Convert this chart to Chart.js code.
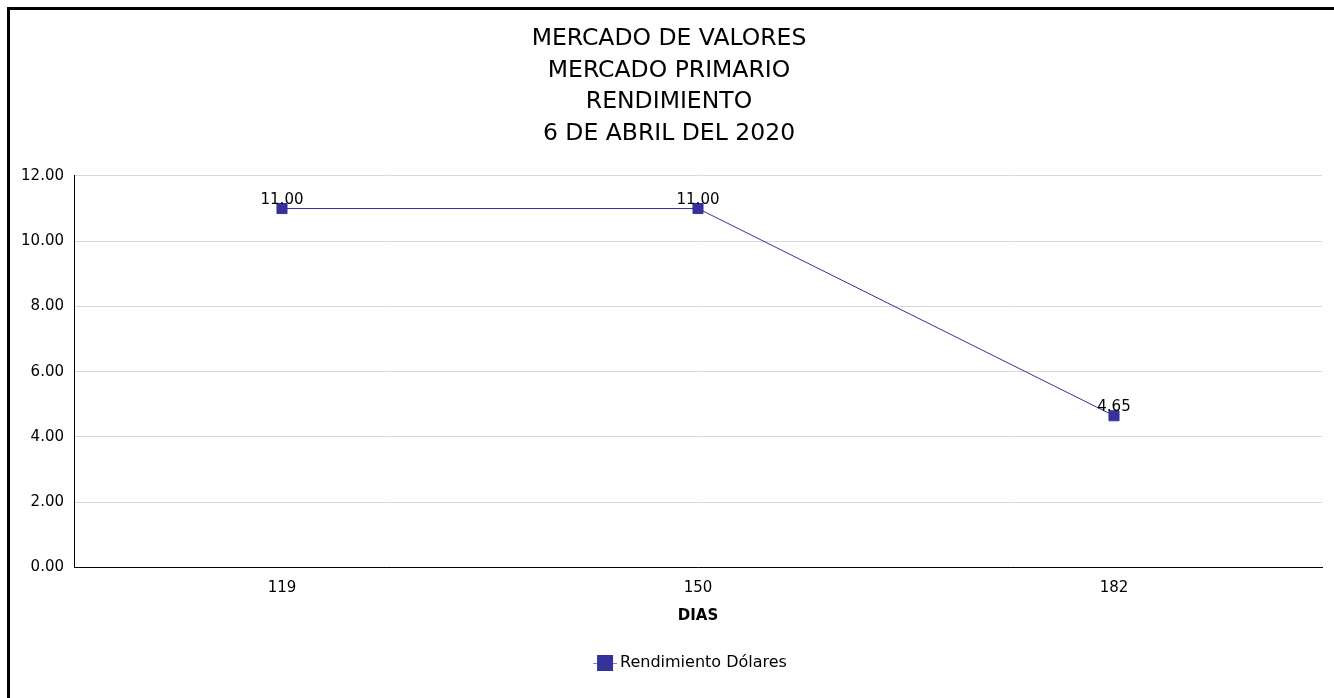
<!DOCTYPE html>
<html>
<head>
<meta charset="utf-8">
<script src="https://cdn.jsdelivr.net/npm/chart.js@4/dist/chart.umd.min.js"></script>
<style>
  html, body { margin: 0; padding: 0; background: #fff; overflow: hidden; }
  #frame {
    position: absolute; left: 7px; top: 7px;
    width: 2000px; height: 2000px;
    border: 3px solid #000; pointer-events: none;
  }
  canvas { position: absolute; left: 0; top: 0; }
</style>
</head>
<body>
<canvas id="myChart" width="1334" height="698"></canvas>
<div id="frame"></div>
<script>
const titleLines = ['MERCADO DE VALORES', 'MERCADO PRIMARIO', 'RENDIMIENTO', '6 DE ABRIL DEL 2020'];
const dias = ['119', '150', '182'];
const rendimientoDolares = [11.00, 11.00, 4.65];
const seriesName = 'Rendimiento Dólares';
const axisTitleX = 'DIAS';

const FONT = 'DejaVu Sans';
const NAVY = '#333399';

// legend symbol: short line with a square on it (transparent left part shifts it right)
const legendIcon = document.createElement('canvas');
legendIcon.width = 71;
legendIcon.height = 16;
(function () {
    const c = legendIcon.getContext('2d');
    c.strokeStyle = '#8080c0';
    c.lineWidth = 1;
    c.beginPath();
    c.moveTo(47, 8.5);
    c.lineTo(71, 8.5);
    c.stroke();
    c.fillStyle = NAVY;
    c.fillRect(51, 0, 16, 16);
})();

// values written above each point
const pointLabels = {
    id: 'pointLabels',
    afterDatasetsDraw(chart) {
        const ctx = chart.ctx;
        const meta = chart.getDatasetMeta(0);
        ctx.save();
        ctx.font = '15px "' + FONT + '"';
        ctx.fillStyle = '#000';
        ctx.textAlign = 'center';
        ctx.textBaseline = 'alphabetic';
        meta.data.forEach((pt, i) => {
            ctx.fillText(rendimientoDolares[i].toFixed(2), pt.x, pt.y - 5);
        });
        ctx.restore();
    }
};

const ctx = document.getElementById('myChart').getContext('2d');
const chart = new Chart(ctx, {
    type: 'line',
    data: {
        labels: dias,
        datasets: [{
            label: seriesName,
            data: rendimientoDolares,
            borderColor: NAVY,
            backgroundColor: NAVY,
            borderWidth: 1,
            pointStyle: 'rect',
            pointRadius: 7.1,
            pointBorderWidth: 1,
            pointBackgroundColor: NAVY,
            pointBorderColor: NAVY,
            tension: 0,
            fill: false
        }]
    },
    options: {
        responsive: false,
        animation: false,
        devicePixelRatio: 1,
        layout: { padding: { top: 23, right: 12, bottom: 17, left: 16 } },
        plugins: {
            title: {
                display: true,
                text: titleLines,
                color: '#000',
                font: { family: FONT, size: 23.5, weight: 'normal', lineHeight: 1.35 },
                padding: { top: 0, bottom: 26 }
            },
            legend: {
                display: true,
                position: 'bottom',
                labels: {
                    color: '#000',
                    font: { family: FONT, size: 16 },
                    usePointStyle: true,
                    pointStyle: legendIcon,
                    pointStyleWidth: 61,
                    padding: 10
                }
            },
            tooltip: { enabled: false }
        },
        scales: {
            x: {
                offset: true,
                grid: { display: false, drawTicks: false },
                border: { display: true, color: '#000', width: 1 },
                ticks: {
                    color: '#000',
                    font: { family: FONT, size: 15 },
                    padding: 12
                },
                title: {
                    display: true,
                    text: axisTitleX,
                    color: '#000',
                    font: { family: FONT, size: 15, weight: 'bold', lineHeight: 0.9 },
                    padding: { top: 0, bottom: 22 }
                }
            },
            y: {
                min: 0,
                max: 12,
                grid: { color: '#d9d9d9', drawTicks: false },
                border: { display: true, color: '#000', width: 1 },
                ticks: {
                    stepSize: 2,
                    color: '#000',
                    font: { family: FONT, size: 15 },
                    padding: 10,
                    callback: (v) => Number(v).toFixed(2)
                },
                afterFit: (scale) => { scale.width = 58; }
            }
        }
    },
    plugins: [pointLabels]
});
</script>
</body>
</html>
